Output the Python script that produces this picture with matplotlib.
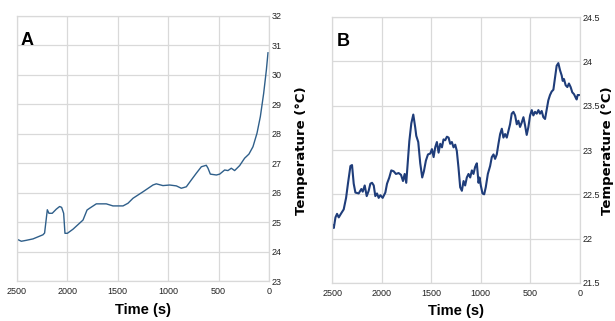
import matplotlib
matplotlib.use('Agg')
import matplotlib.pyplot as plt

plt.rcParams['font.family'] = ['Liberation Sans Narrow', 'Liberation Sans', 'DejaVu Sans']

# panel A
time_a = [2500, 2457, 2410, 2341, 2242, 2226, 2199, 2183, 2150, 2110, 2077, 2057, 2037,
          2024, 2000, 1944, 1845, 1805, 1780, 1713, 1614, 1548, 1448, 1399, 1349, 1250,
          1151, 1118, 1052, 985, 919, 870, 820, 771, 721, 671, 622, 605, 582, 522, 489,
          440, 407, 374, 341, 291, 242, 199, 159, 119, 86, 53, 26, 10]
temp_a = [24.42, 24.35, 24.38, 24.43, 24.57, 24.63, 25.42, 25.30, 25.30, 25.44, 25.53,
          25.50, 25.30, 24.62, 24.62, 24.76, 25.07, 25.41, 25.47, 25.62, 25.62, 25.55,
          25.55, 25.64, 25.81, 26.03, 26.26, 26.30, 26.24, 26.26, 26.23, 26.15, 26.20,
          26.43, 26.66, 26.88, 26.93, 26.83, 26.63, 26.60, 26.63, 26.77, 26.75, 26.83,
          26.75, 26.92, 27.17, 27.31, 27.56, 28.02, 28.58, 29.37, 30.17, 30.75]

# panel B
time_b = [2493, 2483, 2466, 2450, 2433, 2406, 2383, 2359, 2339, 2315,
          2299, 2282, 2265, 2232, 2205, 2191, 2171, 2151, 2131, 2114,
          2097, 2080, 2064, 2047, 2030, 2013, 1990, 1963, 1946, 1923,
          1903, 1879, 1856, 1829, 1805, 1785, 1768, 1752, 1738, 1721,
          1701, 1681, 1661, 1651, 1631, 1611, 1591, 1574, 1554, 1533,
          1510, 1493, 1476, 1460, 1443, 1426, 1409, 1392, 1376, 1359,
          1342, 1325, 1309, 1292, 1275, 1258, 1242, 1225, 1208, 1191,
          1174, 1158, 1141, 1124, 1107, 1090, 1074, 1057, 1040, 1023,
          1013, 1000, 983, 966, 950, 929, 906, 889, 872, 856,
          839, 822, 805, 788, 772, 755, 738, 721, 705, 688,
          671, 654, 637, 621, 604, 587, 570, 554, 537, 520,
          503, 486, 470, 453, 436, 419, 403, 386, 369, 352,
          336, 319, 302, 285, 268, 251, 235, 218, 201, 184,
          174, 161, 144, 127, 111, 94, 77, 60, 43, 33,
          23, 6]
temp_b = [22.15, 22.12, 22.24, 22.28, 22.24, 22.29, 22.33, 22.46, 22.63, 22.82,
          22.83, 22.62, 22.52, 22.51, 22.56, 22.53, 22.60, 22.48, 22.54, 22.62,
          22.63, 22.60, 22.48, 22.51, 22.46, 22.49, 22.46, 22.52, 22.62, 22.69,
          22.77, 22.76, 22.73, 22.74, 22.72, 22.65, 22.73, 22.63, 22.85, 23.10,
          23.30, 23.40, 23.25, 23.16, 23.09, 22.85, 22.69, 22.76, 22.88, 22.95,
          22.96, 23.01, 22.92, 23.03, 23.09, 22.97, 23.07, 23.03, 23.12, 23.11,
          23.15, 23.14, 23.07, 23.09, 23.03, 23.06, 22.99, 22.80, 22.58, 22.54,
          22.65, 22.60, 22.69, 22.73, 22.69, 22.77, 22.73, 22.81, 22.85, 22.63,
          22.69, 22.60, 22.51, 22.50, 22.58, 22.73, 22.82, 22.92, 22.95, 22.90,
          22.95, 23.07, 23.18, 23.24, 23.14, 23.18, 23.14, 23.22, 23.29, 23.41,
          23.43, 23.39, 23.29, 23.33, 23.26, 23.31, 23.37, 23.28, 23.17, 23.26,
          23.39, 23.45, 23.39, 23.43, 23.41, 23.45, 23.41, 23.44, 23.37, 23.35,
          23.45, 23.56, 23.62, 23.66, 23.68, 23.82, 23.95, 23.98, 23.90, 23.84,
          23.78, 23.80, 23.73, 23.71, 23.75, 23.71, 23.65, 23.63, 23.59, 23.57,
          23.62, 23.62]

x_ticks = [2500, 2000, 1500, 1000, 500, 0]
y_ticks_a = list(range(23, 33))
y_ticks_b = [21.5, 22, 22.5, 23, 23.5, 24, 24.5]
y_labels_b = ['21.5', '22', '22.5', '23', '23.5', '24', '24.5']

grid_col = '#d9d9d9'

fig = plt.figure(figsize=(6.15, 3.21), dpi=100)
ax_a = fig.add_axes([0.0276, 0.1246, 0.4098, 0.8256])
ax_b = fig.add_axes([0.540, 0.1184, 0.403, 0.8286])


def style_axes(ax, yticks, ylabels, ylab_x):
    ax.set_xlim(2500, 0)
    ax.set_ylim(yticks[0], yticks[-1])
    ax.set_xticks(x_ticks)
    ax.set_yticks(yticks)
    ax.set_yticklabels(ylabels)
    ax.yaxis.tick_right()
    ax.grid(True, color=grid_col, linewidth=0.9)
    ax.set_axisbelow(True)
    for s in ax.spines.values():
        s.set_color(grid_col)
        s.set_linewidth(0.9)
    ax.tick_params(axis='x', length=0, labelsize=6.5, colors='#222222', pad=4)
    ax.tick_params(axis='y', length=0, labelsize=6.5, colors='#222222', pad=2)
    ax.set_xlabel('Time (s)', fontsize=10.5, fontweight='bold', labelpad=5)
    # y label placed by hand, same spot in both panels
    fig.text(ylab_x, 0.53, 'Temperature (°C)', rotation=90, ha='center', va='center',
             fontsize=9.5, fontweight='bold', family=['DejaVu Sans'])


ax_a.plot(time_a, temp_a, color='#2f5f8a', linewidth=1.0)
style_axes(ax_a, y_ticks_a, [str(v) for v in y_ticks_a], 302 / 615)
ax_a.text(0.015, 0.94, 'A', transform=ax_a.transAxes, fontsize=13,
          fontweight='bold', va='top', ha='left')

ax_b.plot(time_b, temp_b, color='#1f3d7a', linewidth=1.5)
style_axes(ax_b, y_ticks_b, y_labels_b, 607.5 / 615)
ax_b.text(0.02, 0.94, 'B', transform=ax_b.transAxes, fontsize=13,
          fontweight='bold', va='top', ha='left')

fig.savefig('out.png', dpi=100)
